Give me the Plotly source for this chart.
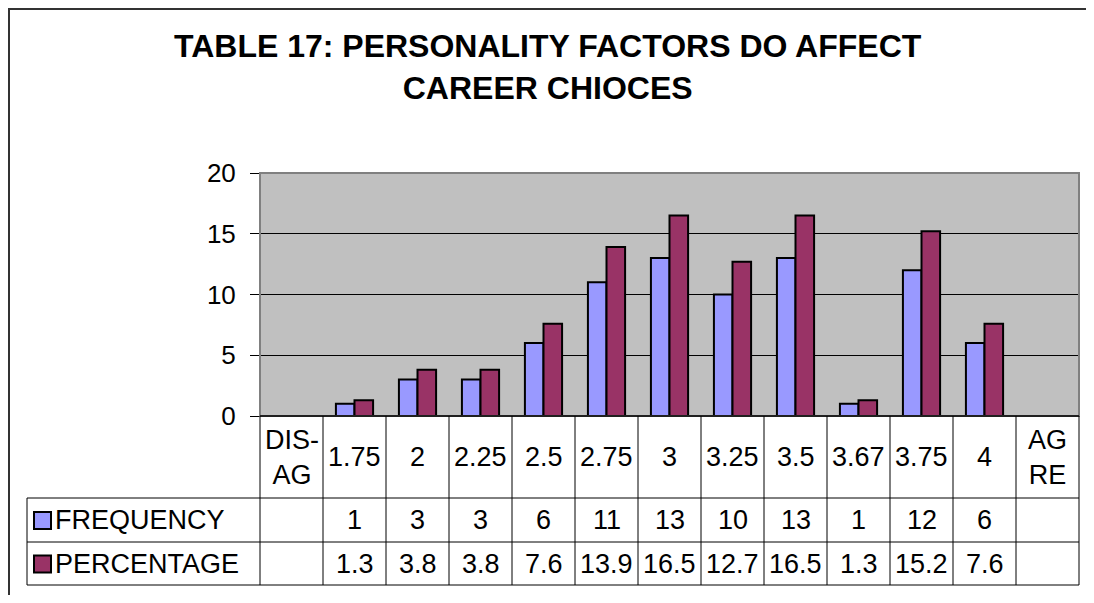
import plotly.graph_objects as go

# ---------------- data ----------------
categories = ["DIS-AG", "1.75", "2", "2.25", "2.5", "2.75", "3", "3.25",
              "3.5", "3.67", "3.75", "4", "AGRE"]
category_labels = ["DIS-<br>AG", "1.75", "2", "2.25", "2.5", "2.75", "3", "3.25",
                   "3.5", "3.67", "3.75", "4", "AG<br>RE"]
frequency = [None, 1, 3, 3, 6, 11, 13, 10, 13, 1, 12, 6, None]
percentage = [None, 1.3, 3.8, 3.8, 7.6, 13.9, 16.5, 12.7, 16.5, 1.3, 15.2, 7.6, None]
series_names = ["FREQUENCY", "PERCENTAGE"]
y_ticks = [0, 5, 10, 15, 20]
title_lines = ["TABLE 17: PERSONALITY FACTORS DO AFFECT", "CAREER CHIOCES"]

# ---------------- styling / layout ----------------
OFF = 8                      # default page margin of the html body
W, H = 1094 - 2 * OFF, 603 - 2 * OFF
PL, PR, PT, PB = 260, 1079, 173, 416          # plot area in screenshot pixels
FONT = "Arial, 'Liberation Sans', sans-serif"
COL_FREQ = "#9999FF"
COL_PCT = "#993366"
TABLE_FS = 27
TICK_FS = 26


def px_x(p):
    return (p - PL) / (PR - PL)


def px_y(p):
    return (PB - p) / (PB - PT)


fig = go.Figure()
fig.add_trace(go.Bar(x=categories, y=frequency, name=series_names[0],
                     marker=dict(color=COL_FREQ, line=dict(color="black", width=2))))
fig.add_trace(go.Bar(x=categories, y=percentage, name=series_names[1],
                     marker=dict(color=COL_PCT, line=dict(color="black", width=2))))

shapes = []
annotations = []

# outer chart border (left & top visible) at the page edge
shapes.append(dict(type="rect", xref="paper", yref="paper",
                   x0=px_x(OFF + 1), x1=px_x(1140), y0=px_y(OFF + 1), y1=px_y(680),
                   line=dict(color="#333333", width=2), layer="below"))

# plot area border
shapes.append(dict(type="rect", xref="paper", yref="paper",
                   x0=0, x1=1, y0=0, y1=1,
                   line=dict(color="#808080", width=2), layer="above"))

# data table geometry
ROW1_BOTTOM, ROW2_BOTTOM, ROW3_BOTTOM = 498, 542, 585
TABLE_LEFT = 27
n = len(categories)
col_w = (PR - PL) / n
for i in range(n + 1):
    xp = PL + i * col_w
    shapes.append(dict(type="line", xref="paper", yref="paper",
                       x0=px_x(xp), x1=px_x(xp), y0=px_y(PB), y1=px_y(ROW3_BOTTOM),
                       line=dict(color="black", width=1)))
for yp in (ROW1_BOTTOM, ROW2_BOTTOM, ROW3_BOTTOM):
    shapes.append(dict(type="line", xref="paper", yref="paper",
                       x0=px_x(TABLE_LEFT), x1=1, y0=px_y(yp), y1=px_y(yp),
                       line=dict(color="black", width=1)))
shapes.append(dict(type="line", xref="paper", yref="paper",
                   x0=px_x(TABLE_LEFT), x1=px_x(TABLE_LEFT),
                   y0=px_y(ROW1_BOTTOM), y1=px_y(ROW3_BOTTOM),
                   line=dict(color="black", width=1)))
# zero line across plot
shapes.append(dict(type="line", xref="paper", yref="paper",
                   x0=0, x1=1, y0=0, y1=0, line=dict(color="black", width=1.5)))

# category labels row (x given as category index on the category axis)
cat_center = (PB + ROW1_BOTTOM) / 2
for i, lab in enumerate(category_labels):
    annotations.append(dict(x=i, xref="x", y=px_y(cat_center), yref="paper",
                            text=lab, showarrow=False, xanchor="center", yanchor="middle",
                            font=dict(family=FONT, size=TABLE_FS, color="black")))

# value rows + legend
rows = [(frequency, ROW1_BOTTOM, ROW2_BOTTOM, COL_FREQ, series_names[0], "{:g}"),
        (percentage, ROW2_BOTTOM, ROW3_BOTTOM, COL_PCT, series_names[1], "{:.1f}")]
for vals, top, bot, col, name, fmt in rows:
    cy = (top + bot) / 2
    for i, v in enumerate(vals):
        if v is None:
            continue
        annotations.append(dict(x=i, xref="x", y=px_y(cy), yref="paper",
                                text=fmt.format(v), showarrow=False,
                                xanchor="center", yanchor="middle",
                                font=dict(family=FONT, size=TABLE_FS, color="black")))
    # legend swatch
    shapes.append(dict(type="rect", xref="paper", yref="paper",
                       x0=px_x(34), x1=px_x(51), y0=px_y(cy - 8), y1=px_y(cy + 9),
                       fillcolor=col, line=dict(color="black", width=2)))
    annotations.append(dict(x=px_x(53), xref="paper", y=px_y(cy), yref="paper",
                            text=name, showarrow=False, xanchor="left", yanchor="middle",
                            font=dict(family=FONT, size=TABLE_FS, color="black")))

# title
annotations.append(dict(x=px_x(548), xref="paper", y=px_y(26), yref="paper",
                        text="<b>" + "<br>".join(title_lines) + "</b>",
                        showarrow=False, xanchor="center", yanchor="top",
                        font=dict(family=FONT, size=32, color="black")))

fig.update_layout(
    width=W, height=H,
    margin=dict(l=PL - OFF, r=W - (PR - OFF), t=PT - OFF, b=H - (PB - OFF), pad=0),
    paper_bgcolor="white",
    plot_bgcolor="#C0C0C0",
    barmode="group",
    bargap=0.41,
    bargroupgap=0,
    showlegend=False,
    font=dict(family=FONT, color="black"),
    shapes=shapes,
    annotations=annotations,
    xaxis=dict(type="category", categoryorder="array", categoryarray=categories,
               showticklabels=False, ticks="", showgrid=False, zeroline=False,
               showline=False, range=[-0.5, n - 0.5], fixedrange=True),
    yaxis=dict(range=[0, 20], tickvals=y_ticks, ticks="outside", ticklen=9,
               tickcolor="black", tickwidth=1, showgrid=True, gridcolor="black",
               gridwidth=1, zeroline=False, showline=False,
               tickfont=dict(family=FONT, size=TICK_FS, color="black"),
               ticklabelstandoff=9, fixedrange=True),
)

fig.write_html("out.html")
